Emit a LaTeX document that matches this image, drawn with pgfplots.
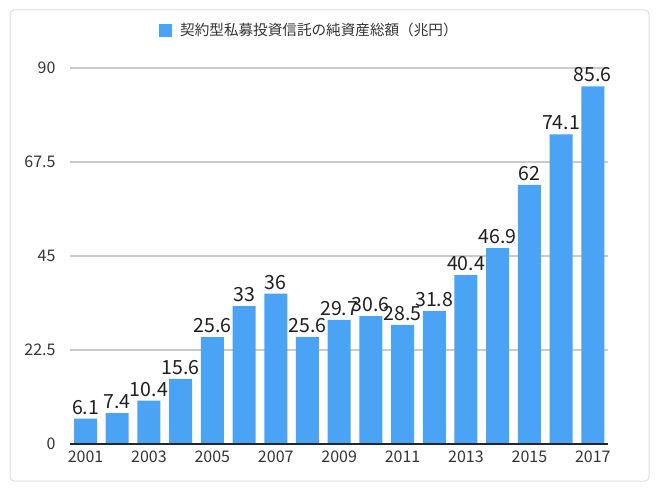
\documentclass[border=0pt]{standalone}
\usepackage{fontspec}
\setmainfont{Noto Sans CJK JP}
\usepackage{pgfplots}
\pgfplotsset{compat=1.18}
\definecolor{barblue}{HTML}{4AA3F5}
\definecolor{gridgray}{HTML}{CACACA}
\definecolor{txt}{HTML}{333333}

\begin{document}
\begin{tikzpicture}[x=1pt,y=1pt]
\useasboundingbox (0,0) rectangle (663,491);
% card frame
\draw[black!13, line width=1pt, rounded corners=4pt] (10,10) rectangle (649,481);
\begin{axis}[
    at={(70pt,47pt)}, anchor=south west,
    scale only axis,
    width=538pt, height=376pt,
    xmin=2000.51, xmax=2017.48,
    ymin=0, ymax=90,
    xtick={2001,2003,...,2017},
    xticklabels={2001,2003,2005,2007,2009,2011,2013,2015,2017},
    ytick={0,22.5,45,67.5,90},
    /pgf/number format/assume math mode=true,
    ymajorgrids,
    grid style={gridgray, line width=1.2pt},
    axis line style={draw=none},
    major tick length=0pt,
    tick label style={font=\fontsize{16}{16}\selectfont, text=txt},
    xticklabel style={yshift=-3pt},
    yticklabel style={xshift=-11pt},
    ybar, bar width=23pt, bar shift=0pt,
    nodes near coords,
    nodes near coords style={font=\fontsize{19.5}{19.5}\selectfont, text=black!88, inner sep=4pt},
    legend style={at={(axis description cs:0.445,1.1)}, anchor=center,
      draw=none, fill=none, font=\fontsize{14.6}{14.6}\selectfont, text=txt},
    % square plus some blank room before the text
    legend image code/.code={\fill[barblue] (0pt,-6.5pt) rectangle (13pt,6.5pt);
      \path (0pt,0pt) -- (19pt,0pt);},
    clip=false,
  ]

  \addplot[fill=barblue, draw=none] coordinates {
    (2001,6.1) (2002,7.4) (2003,10.4) (2004,15.6) (2005,25.6) (2006,33)
    (2007,36) (2008,25.6) (2009,29.7) (2010,30.6) (2011,28.5) (2012,31.8)
    (2013,40.4) (2014,46.9) (2015,62) (2016,74.1) (2017,85.6)
  };
  \addlegendentry{契約型私募投資信託の純資産総額（兆円）}

  % zero baseline
  \draw[black!85, line width=1.8pt] (rel axis cs:0,0) -- (rel axis cs:1,0);
\end{axis}
\end{tikzpicture}
\end{document}
